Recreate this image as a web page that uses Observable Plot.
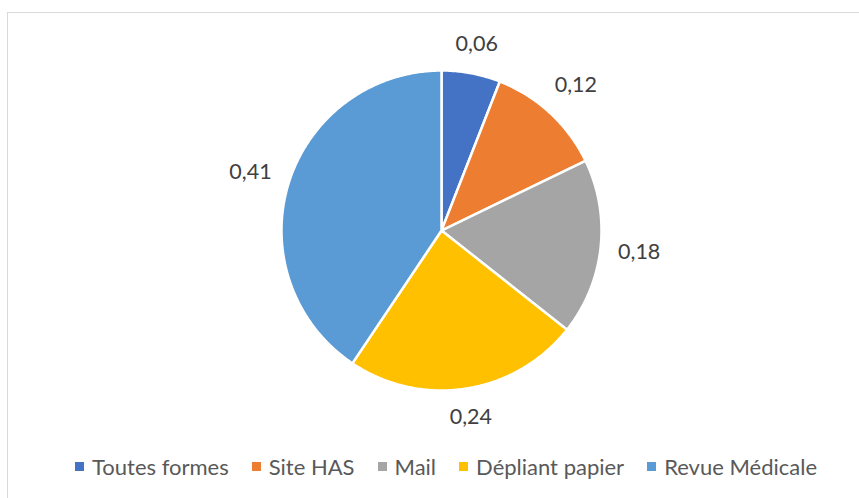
<!DOCTYPE html>
<html>
<head>
<meta charset="utf-8">
<script src="https://cdn.jsdelivr.net/npm/d3@7"></script>
<script src="https://cdn.jsdelivr.net/npm/@observablehq/plot@0.6"></script>
<style>
  html, body { margin: 0; padding: 0; background: #fff; overflow: hidden; }
  body { width: 859px; height: 498px; position: relative; font-family: Lato, "Open Sans", sans-serif; }
  #frame { position: absolute; left: 7px; top: 12px; width: 920px; height: 600px; border: 1.5px solid #d9d9d9; box-sizing: border-box; }
  #chart { position: absolute; left: 0; top: 0; }
  #legend { position: absolute; left: 75px; top: 452px; height: 28px; display: flex; align-items: center; font-size: 22px; color: #595959; white-space: nowrap; }
  .item { display: flex; align-items: center; margin-right: 23px; }
  .sw { width: 9px; height: 9px; margin-right: 8px; }
</style>
</head>
<body>
<div id="frame"></div>
<div id="chart"></div>
<div id="legend"></div>
<script>
const categories = ["Toutes formes", "Site HAS", "Mail", "Dépliant papier", "Revue Médicale"];
const values = [0.06, 0.12, 0.18, 0.24, 0.41];
const valueLabels = ["0,06", "0,12", "0,18", "0,24", "0,41"];
const colors = ["#4472C4", "#ED7D31", "#A5A5A5", "#FFC000", "#5B9BD5"];

const W = 859, H = 440;
const cx = 441, cy = 230, R = 160;

const rows = categories.map((c, i) => ({category: c, value: values[i], label: valueLabels[i]}));
const arcs = d3.pie().sort(null).value(d => d.value).startAngle(0).endAngle(2 * Math.PI)(rows);

// slice outlines in unit-circle coordinates (x right, y up, angle clockwise from top)
const slicePts = [];
arcs.forEach(a => {
  const n = Math.max(8, Math.ceil((a.endAngle - a.startAngle) / 0.01));
  slicePts.push({category: a.data.category, x: 0, y: 0});
  for (let k = 0; k <= n; k++) {
    const t = a.startAngle + (a.endAngle - a.startAngle) * k / n;
    slicePts.push({category: a.data.category, x: Math.sin(t), y: Math.cos(t)});
  }
  slicePts.push({category: a.data.category, x: 0, y: 0});
});

// label positions just outside each slice
const halfW = 21, halfH = 9, gap = 17;
const labelPts = arcs.map(a => {
  const m = (a.startAngle + a.endAngle) / 2;
  const s = Math.sin(m), c = Math.cos(m);
  const d = (R + gap + Math.abs(s) * halfW + Math.abs(c) * halfH) / R;
  return {label: a.data.label, x: s * d, y: c * d};
});

const chart = Plot.plot({
  width: W,
  height: H,
  margin: 0,
  x: {domain: [-1, 1], range: [cx - R, cx + R], axis: null},
  y: {domain: [-1, 1], range: [cy + R, cy - R], axis: null},
  color: {domain: categories, range: colors},
  style: {background: "transparent", overflow: "visible"},
  marks: [
    Plot.line(slicePts, {x: "x", y: "y", z: "category", fill: "category", stroke: "white", strokeWidth: 2.5, strokeLinejoin: "round", curve: "linear"}),
    Plot.text(labelPts, {x: "x", y: "y", text: "label", fontSize: 21.5, fill: "#404040", fontFamily: "Lato, 'Open Sans', sans-serif", textAnchor: "middle", lineAnchor: "middle"})
  ]
});
document.getElementById("chart").appendChild(chart);

const legend = document.getElementById("legend");
categories.forEach((c, i) => {
  const it = document.createElement("div");
  it.className = "item";
  const sw = document.createElement("span");
  sw.className = "sw";
  sw.style.background = colors[i];
  const tx = document.createElement("span");
  tx.textContent = c;
  it.appendChild(sw);
  it.appendChild(tx);
  legend.appendChild(it);
});
</script>
</body>
</html>
